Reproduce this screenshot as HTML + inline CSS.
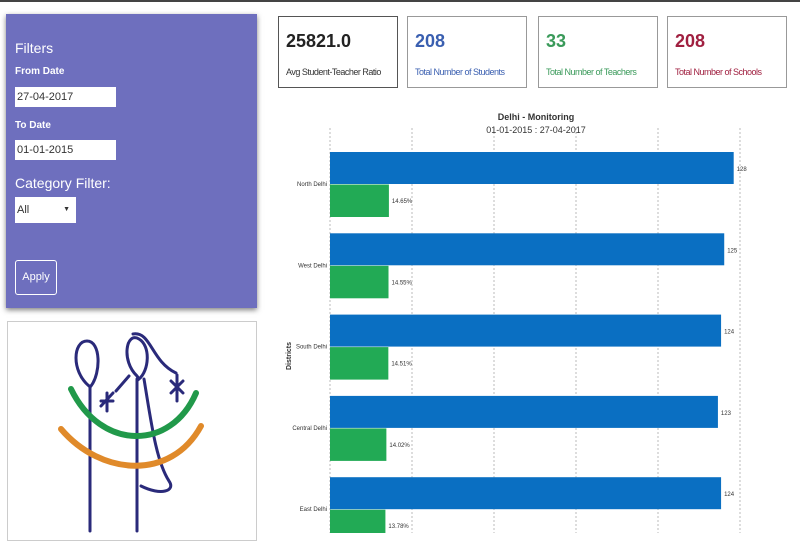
<!DOCTYPE html>
<html><head><meta charset="utf-8">
<style>
body{margin:0;width:800px;height:533px;overflow:hidden;background:#fff;font-family:"Liberation Sans",sans-serif;position:relative}
.abs{position:absolute}
.panel{left:6px;top:14px;width:251px;height:294px;background:#6e6fbe;box-shadow:0 2px 5px rgba(0,0,0,.5);color:#fff}
.inp{position:absolute;left:9px;width:101px;height:20px;background:#fff;color:#333;font-size:11px;line-height:20px;padding-left:2px;box-sizing:border-box}
.card{top:16px;height:72px;border:1px solid #999;box-sizing:border-box;background:#fff}
.card .v{position:absolute;left:7px;top:14px;font-size:18px;font-weight:bold}
.card .l{position:absolute;left:7px;top:50px;font-size:9px;letter-spacing:-0.5px}
</style></head><body>
<div class="abs" style="left:0;top:0;width:800px;height:2px;background:#444"></div>
<div class="abs panel">
 <div class="abs" style="left:9px;top:26px;font-size:14px">Filters</div>
 <div class="abs" style="left:9px;top:52px;font-size:10px;font-weight:bold">From Date</div>
 <div class="inp" style="top:73px">27-04-2017</div>
 <div class="abs" style="left:9px;top:106px;font-size:10px;font-weight:bold">To Date</div>
 <div class="inp" style="top:126px">01-01-2015</div>
 <div class="abs" style="left:9px;top:161px;font-size:14px">Category Filter:</div>
 <div class="inp" style="top:183px;width:61px;height:26px;line-height:26px">All<span style="position:absolute;right:6px;font-size:7px">▼</span></div>
 <div class="abs" style="left:9px;top:246px;width:42px;height:35px;border:1px solid #fff;border-radius:3px;box-sizing:border-box;font-size:11px;text-align:center;line-height:33px">Apply</div>
</div>
<div class="abs" style="left:7px;top:321px;width:250px;height:220px;border:1px solid #ccc;box-sizing:border-box">
<svg width="250" height="220" viewBox="7 321 250 220">
<g fill="none" stroke="#2a2a7a" stroke-width="3" stroke-linecap="round">
<path d="M88,385 C70,370 72,340 86,340 C100,340 100,372 90,385 Z"/>
<line x1="89" y1="385" x2="89" y2="530"/>
<path d="M136,375 C120,360 125,330 138,338 C150,345 148,370 138,378 Z"/>
<path d="M132,333 C150,330 150,360 175,372"/>
<line x1="136" y1="378" x2="136" y2="530"/>
<path d="M143,378 C150,420 155,460 168,480 C175,490 160,495 140,485"/>
<path d="M100,400 L112,400 M106,392 L106,410 M100,405 L112,392"/>
<path d="M170,380 L182,392 M182,380 L170,392 M176,374 L176,400"/>
<path d="M115,390 L128,375"/>
</g>
<path d="M70,388 C100,450 170,450 195,392" fill="none" stroke="#21994a" stroke-width="6" stroke-linecap="round"/>
<path d="M60,428 C100,475 170,480 200,425" fill="none" stroke="#e08a2a" stroke-width="6" stroke-linecap="round"/>
</svg>
</div>
<div class="abs card" style="left:278px;width:120px;border-color:#555"><div class="v" style="color:#222">25821.0</div><div class="l" style="color:#333">Avg Student-Teacher Ratio</div></div>
<div class="abs card" style="left:407px;width:120px"><div class="v" style="color:#3a5fb0">208</div><div class="l" style="color:#3a5fb0">Total Number of Students</div></div>
<div class="abs card" style="left:538px;width:120px"><div class="v" style="color:#3a9a5a">33</div><div class="l" style="color:#3a9a5a">Total Number of Teachers</div></div>
<div class="abs card" style="left:667px;width:120px"><div class="v" style="color:#a02040">208</div><div class="l" style="color:#a02040">Total Number of Schools</div></div>
<svg class="abs" id="chart" style="left:0;top:0" width="800" height="533"></svg>
<script>
const categories=["North Delhi","West Delhi","South Delhi","Central Delhi","East Delhi"];
const blueValues=[128,125,124,123,124];
const greenValues=[14.65,14.55,14.51,14.02,13.78];
const greenLabels=["14.65%","14.55%","14.51%","14.02%","13.78%"];
const gridTicks=[0,26,52,78,104,130];
const NS="http://www.w3.org/2000/svg";
const svg=document.getElementById('chart');
const x0=330,x1=740,maxV=130;
function x(v){return x0+v/maxV*(x1-x0);}
function xg(v){return x(v*1.275);}
function band(i){return 152+i*81.3;}
function mk(t,a){const e=document.createElementNS(NS,t);for(const k in a)e.setAttribute(k,a[k]);svg.appendChild(e);return e;}
gridTicks.forEach((t,i)=>{const l=mk('line',{x1:x(t),x2:x(t),y1:128,y2:533,stroke:'#bbb','stroke-dasharray':'2,2'});

});
let t=mk('text',{x:536,y:120,'font-size':9,'font-weight':'bold','text-anchor':'middle',fill:'#333'});t.textContent='Delhi - Monitoring';


t=mk('text',{x:536,y:133,'font-size':9,'text-anchor':'middle',fill:'#333'});t.textContent='01-01-2015 : 27-04-2017';


t=mk('text',{x:0,y:0,'font-size':7,'font-weight':'bold','text-anchor':'middle',fill:'#333',transform:'translate(291,356) rotate(-90)'});t.textContent='Districts';


categories.forEach((c,i)=>{
 const y=band(i);
 let r=mk('rect',{x:x0,y:y,width:x(blueValues[i])-x0,height:32,fill:'#0a6fc2'});
 
 
 r=mk('rect',{x:x0,y:y+32.5,width:xg(greenValues[i])-x0,height:32.5,fill:'#22aa55'});
 
 
 let l=mk('text',{x:x(blueValues[i])+3,y:y+19,'font-size':6,fill:'#333'});l.textContent=blueValues[i];
 
 
 l=mk('text',{x:xg(greenValues[i])+3,y:y+51,'font-size':6,fill:'#333'});l.textContent=greenLabels[i];
 
 
 l=mk('text',{x:x0-3,y:y+34,'font-size':6,'text-anchor':'end',fill:'#333'});l.textContent=c;
 
 
});
</script>
</body></html>
